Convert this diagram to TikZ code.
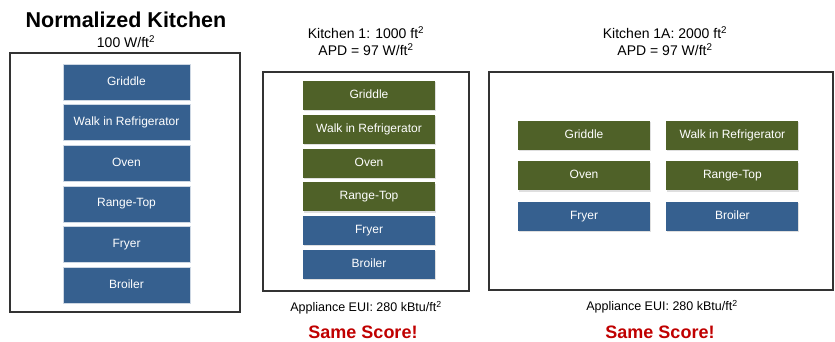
\documentclass[tikz,border=0pt]{standalone}
\usepackage{fontspec}
\setmainfont{Liberation Sans}
\usetikzlibrary{positioning, shadows}

\definecolor{appblue}{HTML}{36608F}
\definecolor{appgreen}{HTML}{4F6128}
\definecolor{scorered}{HTML}{C00000}
\definecolor{framegray}{HTML}{333333}

\tikzset{
  kitchen/.style={draw=framegray, line width=2pt, fill=white},
  appl/.style={text=white, inner sep=0pt, text height=8.6pt, text depth=2.6pt, font=\fontsize{12}{14}\selectfont},
  normbox/.style={appl, fill=appblue, draw=white!75!appblue, line width=0.6pt, minimum width=127pt, minimum height=36pt},
  blubox/.style={appl, fill=appblue, drop shadow={shadow xshift=0.8pt, shadow yshift=-1.2pt, opacity=0.25}, minimum width=132pt, minimum height=29pt},
  grnbox/.style={appl, fill=appgreen, drop shadow={shadow xshift=0.8pt, shadow yshift=-1.2pt, opacity=0.25}, minimum width=132pt, minimum height=29pt},
  caption/.style={align=center, font=\fontsize{14}{17}\selectfont},
  euilabel/.style={font=\fontsize{12.5}{15}\selectfont},
  scorelabel/.style={text=scorered, font=\bfseries\fontsize{18}{21}\selectfont}
}

\begin{document}
\begin{tikzpicture}[x=1pt, y=-1pt]
  \useasboundingbox (0,0) rectangle (835,341);

  % normalized kitchen
  \node[font=\bfseries\fontsize{21.5}{25}\selectfont] (normtitle) at (126,20) {Normalized Kitchen};
  \node[font=\fontsize{14}{17}\selectfont] (normapd) at (126,42) {100 W/ft\textsuperscript{2}};
  \draw[kitchen] (10,53) rectangle (240,312);
  \node[normbox] (n1) at (126.5,82) {Griddle};
  \node[normbox, below=4pt of n1] (n2) {Walk in Refrigerator};
  \node[normbox, below=4pt of n2] (n3) {Oven};
  \node[normbox, below=4pt of n3] (n4) {Range-Top};
  \node[normbox, below=4pt of n4] (n5) {Fryer};
  \node[normbox, below=4pt of n5] (n6) {Broiler};

  % kitchen 1
  \node[caption] (k1title) at (366,41) {Kitchen 1: 1000 ft\textsuperscript{2}\\APD = 97 W/ft\textsuperscript{2}};
  \draw[kitchen] (263,72) rectangle (469,291);
  \node[grnbox] (a1) at (369,95.5) {Griddle};
  \node[grnbox, below=4.4pt of a1] (a2) {Walk in Refrigerator};
  \node[grnbox, below=4.4pt of a2] (a3) {Oven};
  \node[grnbox, below=4.4pt of a3] (a4) {Range-Top};
  \node[blubox, below=4.4pt of a4] (a5) {Fryer};
  \node[blubox, below=4.4pt of a5] (a6) {Broiler};
  \node[euilabel] (k1eui) at (366,308) {Appliance EUI: 280 kBtu/ft\textsuperscript{2}};
  \node[scorelabel] (k1score) at (363,332) {Same Score!};

  % kitchen 1A
  \node[caption] (k2title) at (665,41) {Kitchen 1A: 2000 ft\textsuperscript{2}\\APD = 97 W/ft\textsuperscript{2}};
  \draw[kitchen] (489,72) rectangle (833,290);
  \node[grnbox] (b1) at (584,135.5) {Griddle};
  \node[grnbox, right=16pt of b1] (b2) {Walk in Refrigerator};
  \node[grnbox, below=11pt of b1] (b3) {Oven};
  \node[grnbox, below=11pt of b2] (b4) {Range-Top};
  \node[blubox, below=11pt of b3] (b5) {Fryer};
  \node[blubox, below=11pt of b4] (b6) {Broiler};
  \node[euilabel] (k2eui) at (662,307) {Appliance EUI: 280 kBtu/ft\textsuperscript{2}};
  \node[scorelabel] (k2score) at (660,332) {Same Score!};
\end{tikzpicture}
\end{document}
